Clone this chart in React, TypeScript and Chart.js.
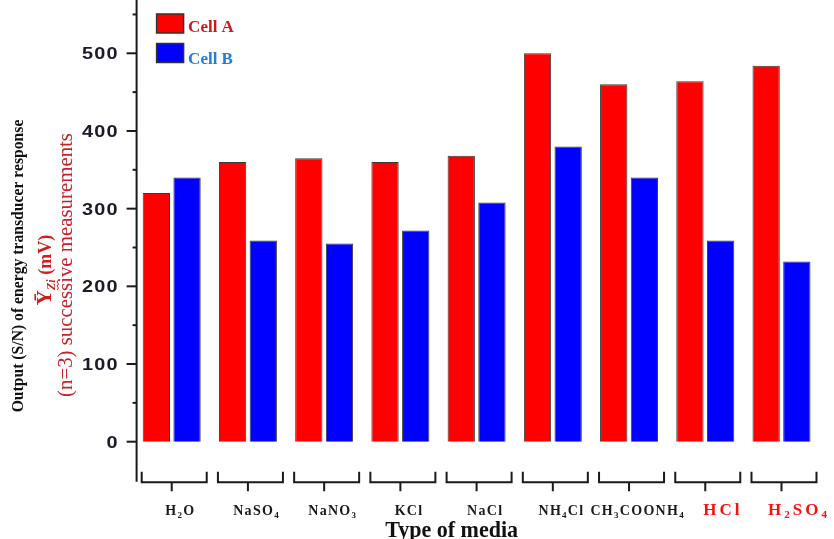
import React, { useEffect, useRef } from "react";
import { Chart, registerables } from "chart.js";

Chart.register(...registerables);

// ---- data ----
const categories = ["H2O", "NaSO4", "NaNO3", "KCl", "NaCl", "NH4Cl", "CH3COONH4", "HCl", "H2SO4"];
const cellA = [320, 360, 365, 360, 368, 500, 460, 464, 484];
const cellB = [340, 259, 255, 272, 308, 380, 340, 259, 232];
const seriesNames = ["Cell A", "Cell B"];
const yTickLabels = [0, 100, 200, 300, 400, 500];
const highlightedMedia = ["HCl", "H2SO4"];
const xAxisTitle = "Type of media";
const yTitleLine1 = "Output (S/N) of energy transducer response";
const yTitleLine3 = "(n=3) successive measurements";

const SERIF = "'Liberation Serif', 'Times New Roman', serif";
const SANS = "'Liberation Sans', Arial, sans-serif";

type Seg = { t: string; sub: boolean };
function chemSegs(text: string): Seg[] {
  const segs: Seg[] = [];
  for (const ch of text) {
    const sub = /[0-9]/.test(ch);
    segs.push({ t: ch, sub });
  }
  return segs;
}

function drawSpaced(
  ctx: CanvasRenderingContext2D,
  segs: Seg[],
  x: number,
  y: number,
  size: number,
  weight: string,
  family: string,
  color: string,
  spacing: number,
  align: "left" | "center" | "right"
) {
  const fontFor = (s: Seg) => `${weight} ${s.sub ? Math.round(size * 0.62) : size}px ${family}`;
  let total = 0;
  const widths: number[] = [];
  segs.forEach((s, i) => {
    ctx.font = fontFor(s);
    const w = ctx.measureText(s.t).width;
    widths.push(w);
    total += w + (i < segs.length - 1 ? spacing : 0);
  });
  let cx = align === "left" ? x : align === "center" ? x - total / 2 : x - total;
  ctx.fillStyle = color;
  ctx.textAlign = "left";
  ctx.textBaseline = "alphabetic";
  segs.forEach((s, i) => {
    ctx.font = fontFor(s);
    ctx.fillText(s.t, cx, y + (s.sub ? size * 0.22 : 0));
    cx += widths[i] + spacing;
  });
}

function fitFont(ctx: CanvasRenderingContext2D, text: string, weight: string, family: string, target: number) {
  ctx.font = `${weight} 20px ${family}`;
  const w = ctx.measureText(text).width;
  return (20 * target) / w;
}

const decorPlugin = {
  id: "decor",
  afterDraw(chart: any) {
    const ctx: CanvasRenderingContext2D = chart.ctx;
    const ca = chart.chartArea;
    const xs = chart.scales.x;
    const ys = chart.scales.y;
    ctx.save();

    // y axis line + ticks
    const ax = ca.left + 3;
    ctx.strokeStyle = "#1a1a1a";
    ctx.lineWidth = 2;
    ctx.beginPath();
    ctx.moveTo(ax, ca.top);
    ctx.lineTo(ax, ca.bottom);
    ctx.stroke();
    ys.ticks.forEach((t: any) => {
      const py = ys.getPixelForValue(t.value);
      const len = t.value % 100 === 0 ? 10 : 4;
      ctx.beginPath();
      ctx.moveTo(ax - len, py);
      ctx.lineTo(ax, py);
      ctx.stroke();
    });
    // y tick labels (slightly wide sans face)
    yTickLabels.forEach((v) => {
      const py = ys.getPixelForValue(v);
      ctx.save();
      ctx.translate(ax - 19, py + 6);
      ctx.scale(1.17, 1);
      drawSpaced(ctx, String(v).split("").map((c) => ({ t: c, sub: false })), 0, 0, 17, "bold", SANS, "#1b1b26", 1, "right");
      ctx.restore();
    });

    // category brackets and labels
    categories.forEach((c, i) => {
      const cx = xs.getPixelForValue(i);
      const l = cx - 30;
      const r = cx + 35;
      const top = ca.bottom - 10;
      const bot = ca.bottom + 0.5;
      ctx.strokeStyle = "#1a1a1a";
      ctx.lineWidth = 2;
      ctx.beginPath();
      ctx.moveTo(l, top);
      ctx.lineTo(l, bot);
      ctx.lineTo(r, bot);
      ctx.lineTo(r, top);
      ctx.moveTo(cx, bot);
      ctx.lineTo(cx, ca.bottom + 9.5);
      ctx.stroke();
      const hi = highlightedMedia.includes(c);
      drawSpaced(ctx, chemSegs(c), cx + (hi ? 16 : 8), ca.bottom + 33, hi ? 17 : 14, "bold", SERIF, hi ? "#ff1010" : "#1a1a1a", hi ? 3 : 1.3, "center");
    });

    // x axis title
    const xfs = fitFont(ctx, xAxisTitle, "bold", SERIF, 133);
    ctx.font = `bold ${xfs}px ${SERIF}`;
    ctx.fillStyle = "#111";
    ctx.textAlign = "center";
    ctx.textBaseline = "alphabetic";
    ctx.fillText(xAxisTitle, (ca.left + ca.right) / 2 - 25, ca.bottom + 55.5);

    // y axis titles (rotated)
    const rot = (x: number, y: number, fn: () => void) => {
      ctx.save();
      ctx.translate(x, y);
      ctx.rotate(-Math.PI / 2);
      fn();
      ctx.restore();
    };
    rot(19, 266, () => {
      const fs = fitFont(ctx, yTitleLine1, "bold", SERIF, 293);
      ctx.font = `bold ${fs}px ${SERIF}`;
      ctx.fillStyle = "#111";
      ctx.textAlign = "center";
      ctx.textBaseline = "middle";
      ctx.fillText(yTitleLine1, 0, 0);
    });
    rot(44, 270, () => {
      const parts = [
        { t: "\u0232", f: `bold 21px ${SERIF}`, dy: 0 },
        { t: "Zi", f: `bold italic 12px ${SERIF}`, dy: 4 },
        { t: " (mV)", f: `bold 18px ${SERIF}`, dy: 0 },
      ];
      let tot = 0;
      const ws = parts.map((p) => {
        ctx.font = p.f;
        const w = ctx.measureText(p.t).width;
        tot += w;
        return w;
      });
      let x0 = -tot / 2;
      ctx.fillStyle = "#d01c1c";
      ctx.textAlign = "left";
      ctx.textBaseline = "alphabetic";
      parts.forEach((p, i) => {
        ctx.font = p.f;
        ctx.fillText(p.t, x0, 7 + p.dy);
        if (p.t === "Zi") {
          ctx.strokeStyle = "#d01c1c";
          ctx.lineWidth = 1;
          ctx.beginPath();
          for (let k = 0; k <= ws[i]; k += 2) {
            const yy = 13 + (k % 4 === 0 ? 0 : 1.5);
            if (k === 0) ctx.moveTo(x0 + k, yy);
            else ctx.lineTo(x0 + k, yy);
          }
          ctx.stroke();
        }
        x0 += ws[i];
      });
    });
    rot(67, 265, () => {
      const fs = fitFont(ctx, yTitleLine3, "normal", SERIF, 264);
      ctx.font = `normal ${fs}px ${SERIF}`;
      ctx.fillStyle = "#c8222a";
      ctx.textAlign = "center";
      ctx.textBaseline = "middle";
      ctx.fillText(yTitleLine3, 0, 0);
    });

    // legend
    const lx = ca.left + 23;
    const legendColors = [
      { fill: "#ff0000", text: "#cc1a1a" },
      { fill: "#0000ff", text: "#1e7fd4" },
    ];
    const boxes = [
      { y: 14, ty: 31.5 },
      { y: 43.5, ty: 64 },
    ];
    seriesNames.forEach((n, i) => {
      ctx.fillStyle = legendColors[i].fill;
      ctx.fillRect(lx, boxes[i].y, 27, 19);
      ctx.strokeStyle = "#333";
      ctx.lineWidth = 1.5;
      ctx.strokeRect(lx, boxes[i].y, 27, 19);
      ctx.font = `bold 17px ${SERIF}`;
      ctx.fillStyle = legendColors[i].text;
      ctx.textAlign = "left";
      ctx.textBaseline = "alphabetic";
      ctx.fillText(n, lx + 31.5, boxes[i].ty);
    });

    ctx.restore();
  },
};

export default function App() {
  const ref = useRef<HTMLCanvasElement | null>(null);
  useEffect(() => {
    if (!ref.current) return;
    const chart = new Chart(ref.current, {
      type: "bar",
      data: {
        labels: categories,
        datasets: [
          {
            label: seriesNames[0],
            data: cellA,
            backgroundColor: "#ff0000",
            borderColor: "#3a3a3a",
            borderWidth: 1,
            categoryPercentage: 0.805,
            barPercentage: 0.89,
          },
          {
            label: seriesNames[1],
            data: cellB,
            backgroundColor: "#0000ff",
            borderColor: "#3a3a3a",
            borderWidth: 1,
            categoryPercentage: 0.805,
            barPercentage: 0.89,
          },
        ],
      },
      options: {
        responsive: false,
        animation: false,
        devicePixelRatio: 1,
        layout: { padding: { top: 0, left: 0, right: 14.4, bottom: 57.3 } },
        plugins: { legend: { display: false }, tooltip: { enabled: false }, title: { display: false } },
        scales: {
          x: { display: false },
          y: {
            display: true,
            min: -51.5,
            max: 568.6,
            grid: { display: false },
            border: { display: false },
            ticks: { display: false, stepSize: 50 },
            afterBuildTicks: (s: any) => {
              s.ticks = s.ticks.filter((t: any) => t.value % 50 === 0);
            },
            afterFit: (s: any) => {
              s.width = 133.6;
            },
          },
        },
      },
      plugins: [decorPlugin],
    } as any);
    return () => chart.destroy();
  }, []);
  return (
    <div style={{ position: "fixed", left: 0, top: 0, width: 834, height: 539, background: "#fff" }}>
      <canvas ref={ref} width={834} height={539} />
    </div>
  );
}
